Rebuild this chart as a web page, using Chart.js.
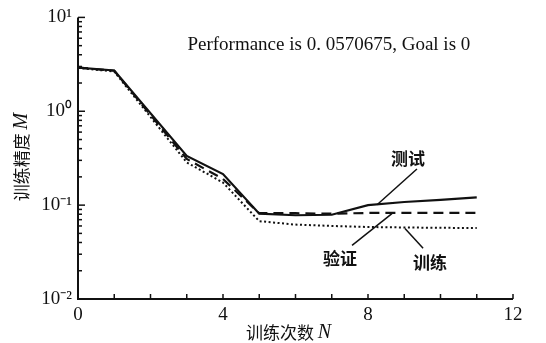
<!DOCTYPE html>
<html>
<head>
<meta charset="utf-8">
<script src="https://cdn.jsdelivr.net/npm/chart.js@4.4.1/dist/chart.umd.min.js"></script>
<style>
  html, body { margin: 0; padding: 0; background: #fff; }
  #wrap { width: 546px; height: 343px; position: relative; }
</style>
</head>
<body>
<div id="wrap"><canvas id="chart"></canvas></div>
<script>
// training curve data
const epochs = [0, 1, 3, 4, 5, 6, 7, 8, 9, 10, 11];
const testErr = [2.92, 2.72, 0.334, 0.214, 0.081, 0.078, 0.079, 0.1, 0.108, 0.114, 0.121];
const validErr = [2.92, 2.7, 0.31, 0.19, 0.082, 0.082, 0.081, 0.0826, 0.0826, 0.0826, 0.0826];
const trainErr = [2.9, 2.65, 0.285, 0.174, 0.0675, 0.062, 0.06, 0.0585, 0.0578, 0.0573, 0.0571];

const xTicks = [0, 1, 2, 3, 4, 5, 6, 7, 8, 9, 10, 11, 12];
const xLabelled = [0, 4, 8, 12];
const yMajor = [0.01, 0.1, 1, 10];
const yMajorLabels = ['10\u207B\u00B2', '10\u207B\u00B9', '10\u2070', '10\u00B9'];

// curve labels: [text, x, y, leader from x, from y, to x, to y]
const curveLabels = [
  ['测试', 9.1, 0.31, 9.35, 0.243, 8.25, 0.101],
  ['验证', 7.23, 0.0272, 7.56, 0.0373, 8.66, 0.0813],
  ['训练', 9.71, 0.0246, 9.52, 0.0347, 9.02, 0.0564]
];
const perfText = 'Performance is 0. 0570675, Goal is 0';
const perfPos = [6.92, 5.12];

function pts(ys) {
  return epochs.map((x, i) => ({ x: x, y: ys[i] }));
}

// all log ticks 1..9 per decade
const yAllTicks = [];
[0.01, 0.1, 1].forEach(d => {
  for (let k = 1; k <= 9; k++) yAllTicks.push(+(d * k).toPrecision(3));
});
yAllTicks.push(10);

const decorPlugin = {
  id: 'decor',
  afterDraw(chart) {
    const { ctx, chartArea: { left, right, top, bottom } } = chart;
    const xs = chart.scales.x, ys = chart.scales.y;
    ctx.save();
    ctx.strokeStyle = '#111';
    ctx.fillStyle = '#111';

    // axes
    ctx.lineWidth = 2;
    ctx.beginPath();
    ctx.moveTo(left, top);
    ctx.lineTo(left, bottom);
    ctx.lineTo(right, bottom);
    ctx.stroke();

    // inward ticks
    ctx.lineWidth = 1.5;
    xTicks.forEach(v => {
      const px = xs.getPixelForValue(v);
      ctx.beginPath();
      ctx.moveTo(px, bottom);
      ctx.lineTo(px, bottom - 5);
      ctx.stroke();
    });
    yAllTicks.forEach(v => {
      const py = ys.getPixelForValue(v);
      const major = yMajor.some(m => Math.abs(m - v) < 1e-9);
      ctx.beginPath();
      ctx.moveTo(left, py);
      ctx.lineTo(left + (major ? 7 : 4), py);
      ctx.stroke();
    });

    // performance text
    ctx.font = '19px "Liberation Serif", serif';
    ctx.textAlign = 'center';
    ctx.textBaseline = 'middle';
    ctx.fillText(perfText, xs.getPixelForValue(perfPos[0]), ys.getPixelForValue(perfPos[1]));

    // curve labels with leader lines
    ctx.font = 'bold 17px "Noto Sans CJK SC", sans-serif';
    ctx.lineWidth = 1.5;
    curveLabels.forEach(([t, lx, ly, ax, ay, bx, by]) => {
      ctx.fillText(t, xs.getPixelForValue(lx), ys.getPixelForValue(ly));
      ctx.beginPath();
      ctx.moveTo(xs.getPixelForValue(ax), ys.getPixelForValue(ay));
      ctx.lineTo(xs.getPixelForValue(bx), ys.getPixelForValue(by));
      ctx.stroke();
    });

    // axis titles (mixed CJK + italic letter)
    const cjk = '17px "Noto Sans CJK SC", sans-serif';
    const ital = 'italic 20px "Liberation Serif", serif';
    function mixed(a, b, cx, cy) {
      ctx.font = cjk;
      const wa = ctx.measureText(a).width;
      ctx.font = ital;
      const wb = ctx.measureText(b).width;
      const start = cx - (wa + wb) / 2;
      ctx.textAlign = 'left';
      ctx.font = cjk;
      ctx.fillText(a, start, cy);
      ctx.font = ital;
      ctx.fillText(b, start + wa, cy);
    }
    mixed('训练次数 ', 'N', (left + right) / 2 - 7, 333);
    ctx.save();
    ctx.translate(22, 157);
    ctx.rotate(-Math.PI / 2);
    mixed('训练精度 ', 'M', 0, 0);
    ctx.restore();

    ctx.restore();
  }
};

new Chart(document.getElementById('chart'), {
  type: 'line',
  data: {
    datasets: [
      { label: '测试', data: pts(testErr), borderColor: '#111', borderWidth: 2.2, pointRadius: 0, tension: 0 },
      { label: '验证', data: pts(validErr), borderColor: '#111', borderWidth: 2.2, borderDash: [10, 6], pointRadius: 0, tension: 0 },
      { label: '训练', data: pts(trainErr), borderColor: '#111', borderWidth: 2, borderDash: [2, 2.5], pointRadius: 0, tension: 0 }
    ]
  },
  options: {
    responsive: true,
    maintainAspectRatio: false,
    animation: false,
    layout: { padding: { top: 16, right: 33, left: 0, bottom: 0 } },
    plugins: { legend: { display: false }, tooltip: { enabled: false } },
    scales: {
      x: {
        type: 'linear',
        min: 0,
        max: 12,
        grid: { display: false, drawTicks: false },
        border: { display: false },
        afterBuildTicks(scale) { scale.ticks = xTicks.map(v => ({ value: v })); },
        afterFit(scale) { scale.height = 44; },
        ticks: {
          autoSkip: false,
          maxRotation: 0,
          padding: 5,
          color: '#111',
          font: { family: '"Liberation Serif", serif', size: 19 },
          callback: v => (xLabelled.includes(v) ? String(v) : '')
        }
      },
      y: {
        type: 'logarithmic',
        min: 0.01,
        max: 10,
        grid: { display: false, drawTicks: false },
        border: { display: false },
        afterBuildTicks(scale) { scale.ticks = yMajor.map(v => ({ value: v })); },
        afterFit(scale) { scale.width = 78; },
        ticks: {
          autoSkip: false,
          padding: 6,
          color: '#111',
          font: { family: '"Liberation Serif", serif', size: 19 },
          callback: (v, i) => yMajorLabels[i]
        }
      }
    }
  },
  plugins: [decorPlugin]
});
</script>
</body>
</html>
